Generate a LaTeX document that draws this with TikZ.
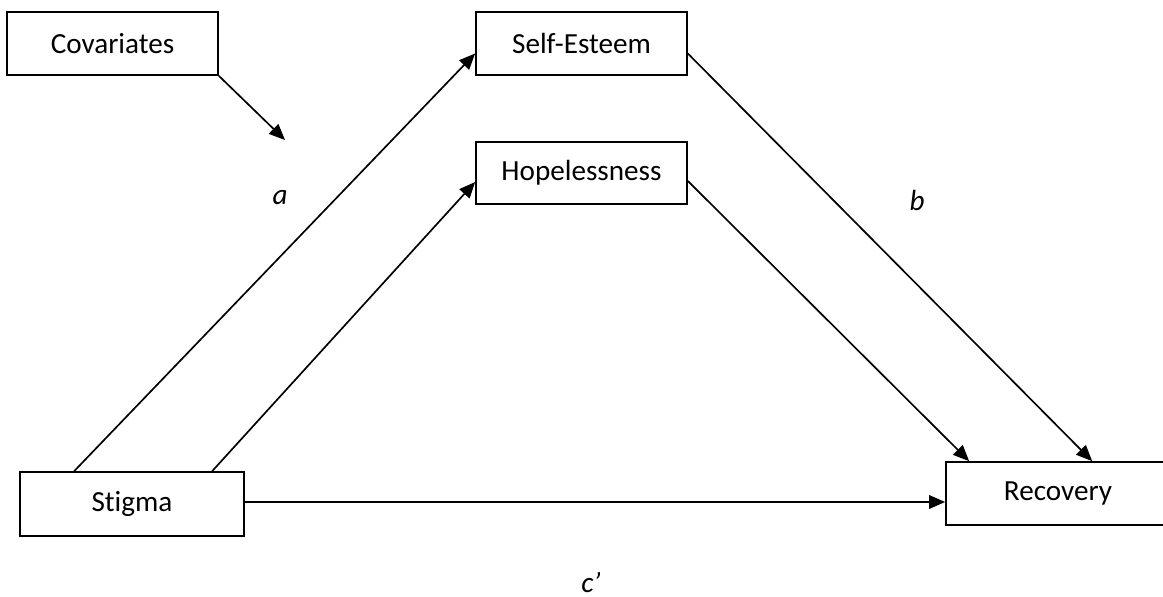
\documentclass[tikz,border=0pt]{standalone}
\usepackage{fontspec}
\setmainfont{Carlito}[Ligatures=NoCommon]
\usepackage{tikz}
\usetikzlibrary{arrows.meta, calc}

\begin{document}
\begin{tikzpicture}[x=0.02cm, y=-0.02cm, line width=0.95pt,
    varbox/.style={draw, rectangle, inner sep=0pt, font=\fontsize{16.6}{20}\selectfont},
    path/.style={-{Triangle[length=0.32cm, width=0.27cm]}},
    coef/.style={inner sep=0pt, font=\fontsize{16.6}{20}\selectfont\itshape}]
      \useasboundingbox (0,0) rectangle (1163,597);
      \node[varbox, minimum width=211*0.02cm, minimum height=63*0.02cm] (cov) at (112.5, 43.5) {Covariates};
      \node[varbox, minimum width=211*0.02cm, minimum height=63*0.02cm] (selfest) at (581.5, 43.5) {Self-Esteem};
      \node[varbox, minimum width=211*0.02cm, minimum height=62*0.02cm] (hopeless) at (581.5, 173) {Hopelessness};
      \node[varbox, minimum width=224*0.02cm, minimum height=64*0.02cm] (stigma) at (132, 504) {Stigma};
      \node[varbox, minimum width=224*0.02cm, minimum height=63*0.02cm] (recovery) at (1058, 493.5) {Recovery};
      \coordinate (covtip) at (285, 140);
      \coordinate (stigout) at ($(stigma.east)+(0,-2)$);
      \coordinate (recin) at (stigout -| recovery.west);
      \draw[path] (cov.south east) -- (covtip);
      \draw[path] ($(stigma.north west)+(55,0)$) -- ($(selfest.west)+(0,10)$);
      \draw[path] ($(stigma.north west)+(193,0)$) -- ($(hopeless.west)+(0,9)$);
      \draw[path] ($(selfest.east)+(0,10)$) -- ($(recovery.north west)+(147,0)$);
      \draw[path] ($(hopeless.east)+(0,8)$) -- ($(recovery.north west)+(24,0)$);
      \draw[path] (stigout) -- (recin);
      \node[coef] (alab) at (280, 198) {a};
      \node[coef] (blab) at (917, 200) {b};
      \node[coef] (clab) at (591, 582) {c’};
  \end{tikzpicture}
\end{document}
